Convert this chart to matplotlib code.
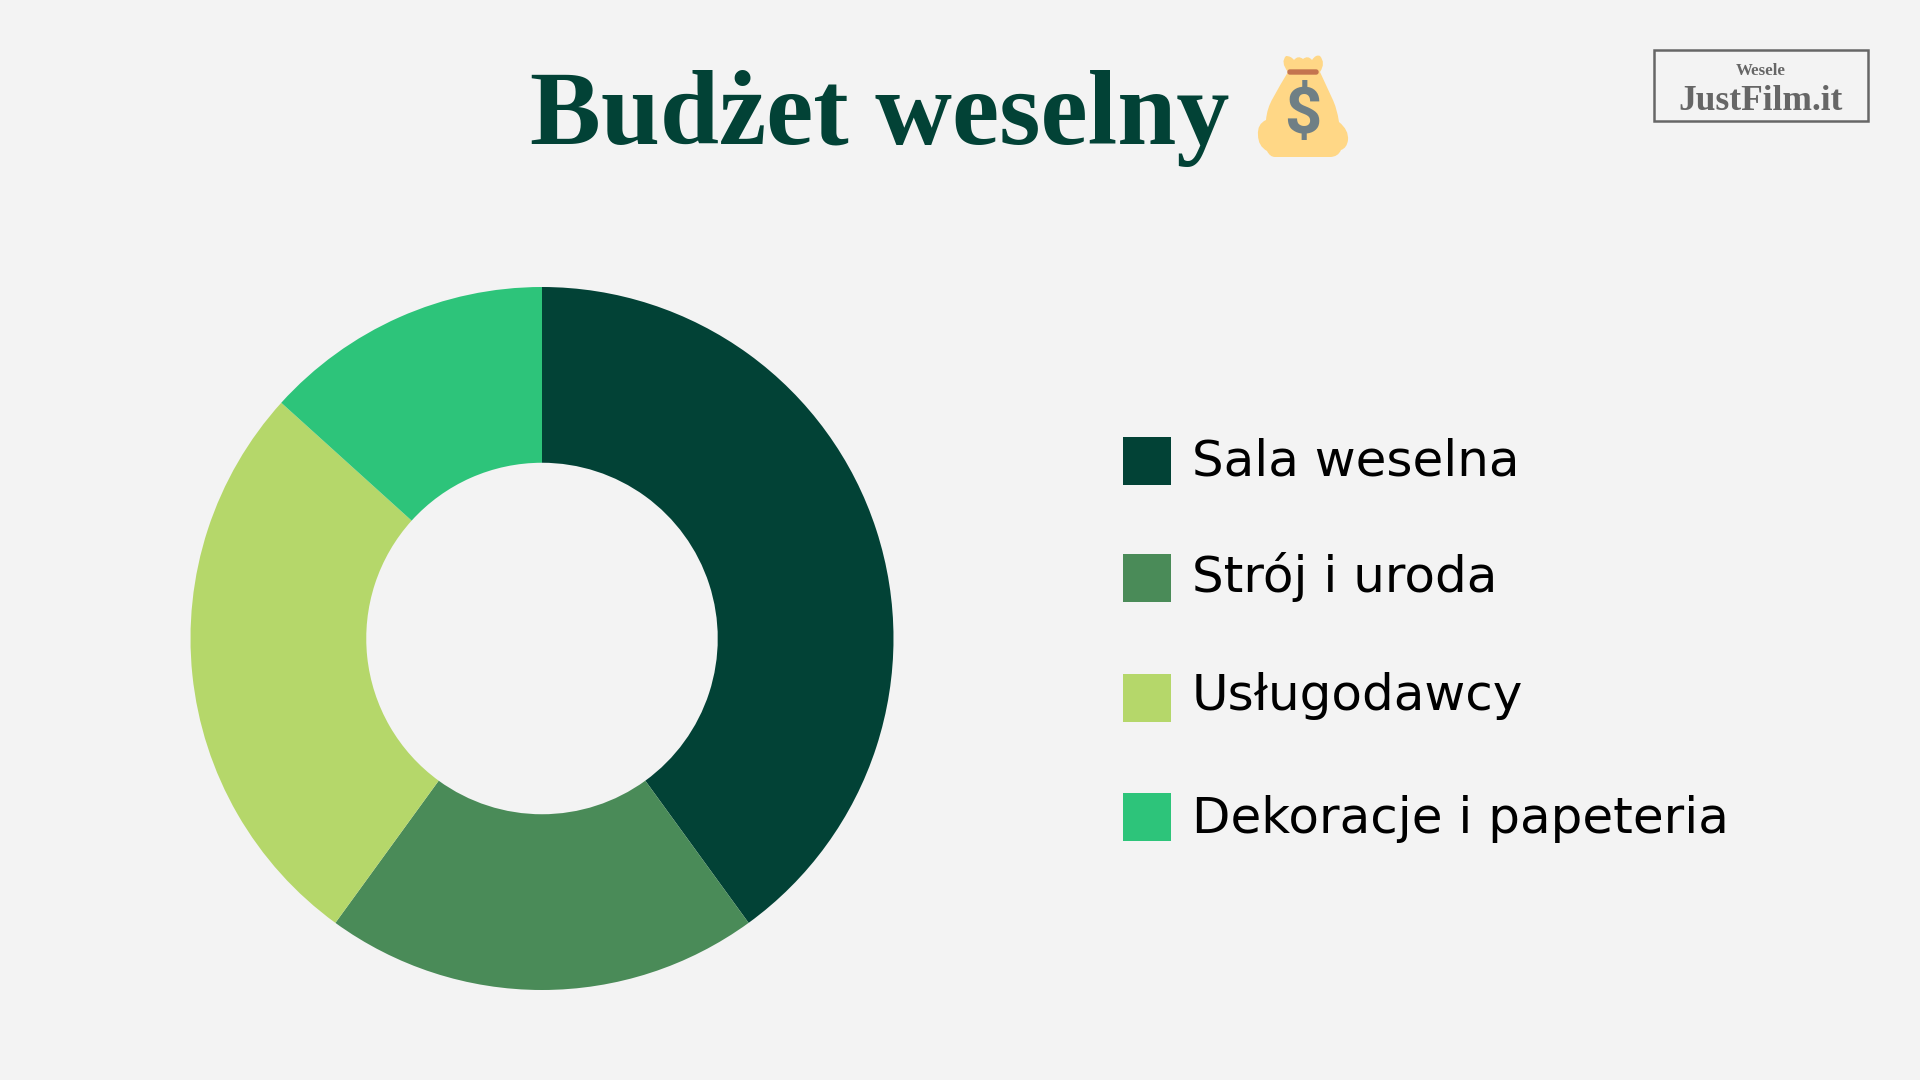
import matplotlib
matplotlib.use('Agg')
import matplotlib.pyplot as plt
from matplotlib.patches import FancyBboxPatch, PathPatch, Rectangle
from matplotlib.path import Path

# Chart data
categories = ['Sala weselna', 'Strój i uroda', 'Usługodawcy', 'Dekoracje i papeteria']
shares = [40, 20, 26.7, 13.3]
colors = ['#024236', '#4A8B58', '#B5D76A', '#2DC47A']

title = 'Budżet weselny'
logo_top = 'Wesele'
logo_bottom = 'JustFilm.it'

BG = '#F3F3F3'
W, H = 1920, 1080

fig = plt.figure(figsize=(W/100, H/100), dpi=100, facecolor=BG)

# Donut, placed by its centre and radius in pixels
cx, cy, r = 542, 638.5, 351.5
ax = fig.add_axes([(cx - r)/W, 1 - (cy + r)/H, 2*r/W, 2*r/H])
ax.pie(shares, colors=colors, startangle=90, counterclock=False, radius=1,
    wedgeprops={'width': 0.5, 'linewidth': 0})
ax.set_xlim(-1, 1)
ax.set_ylim(-1, 1)

# Overlay in pixel coordinates for everything else
over = fig.add_axes([0, 0, 1, 1])
over.set_xlim(0, W)
over.set_ylim(H, 0)
over.axis('off')
over.patch.set_alpha(0)

# Title
over.text(530, 144, title, family='Liberation Serif', weight='bold', fontsize=76.5,
    color='#024236', ha='left', va='baseline')

# Money bag icon: start point, then (control, end) pairs
bag_verts = [(1288, 72),
    (1280, 62), (1286, 56), (1291, 56), (1294, 60), (1298, 55), (1303, 59),
    (1308, 55), (1312, 60), (1316, 54), (1320, 56), (1326, 63), (1320, 72),
    (1326, 85), (1332, 98), (1337, 108), (1339, 122), (1349, 130), (1348, 140),
    (1347, 148), (1341, 150), (1338, 157), (1330, 157), (1302, 157), (1275, 157),
    (1270, 157), (1267, 151), (1258, 146), (1258, 135), (1257, 124), (1266, 120),
    (1267, 108), (1273, 98), (1280, 85), (1288, 72)]
bag_codes = [Path.MOVETO] + [Path.CURVE3]*(len(bag_verts) - 1)
over.add_patch(PathPatch(Path(bag_verts, bag_codes), facecolor='#FFD786', edgecolor='none'))
over.add_patch(FancyBboxPatch((1288, 70), 30, 4, boxstyle='round,pad=0,rounding_size=2',
    facecolor='#C4744F', edgecolor='#C4744F', linewidth=1))
over.text(1302.5, 116, '$', family='Roboto', weight='bold', fontsize=47, color='#6F7F85',
    ha='center', va='center')

# Logo box
over.add_patch(Rectangle((1654, 50), 214, 71, fill=False, edgecolor='#666666', linewidth=1.8))
over.text(1761, 75, logo_top, family='Liberation Serif', weight='bold', fontsize=12.2,
    color='#666666', ha='center', va='baseline')
over.text(1761, 110, logo_bottom, family='Liberation Serif', weight='bold', fontsize=25.5,
    color='#666666', ha='center', va='baseline')

# Legend
legend_tops = [437, 554, 674, 793]
legend_baselines = [476, 592, 710, 833]
for category, color, top, base in zip(categories, colors, legend_tops, legend_baselines):
    over.add_patch(Rectangle((1123, top), 48, 48, facecolor=color, edgecolor='none'))
    over.text(1192, base, category, family='DejaVu Sans', fontsize=36, color='black',
        ha='left', va='baseline')

fig.savefig('out.png', dpi=100, facecolor=BG)
